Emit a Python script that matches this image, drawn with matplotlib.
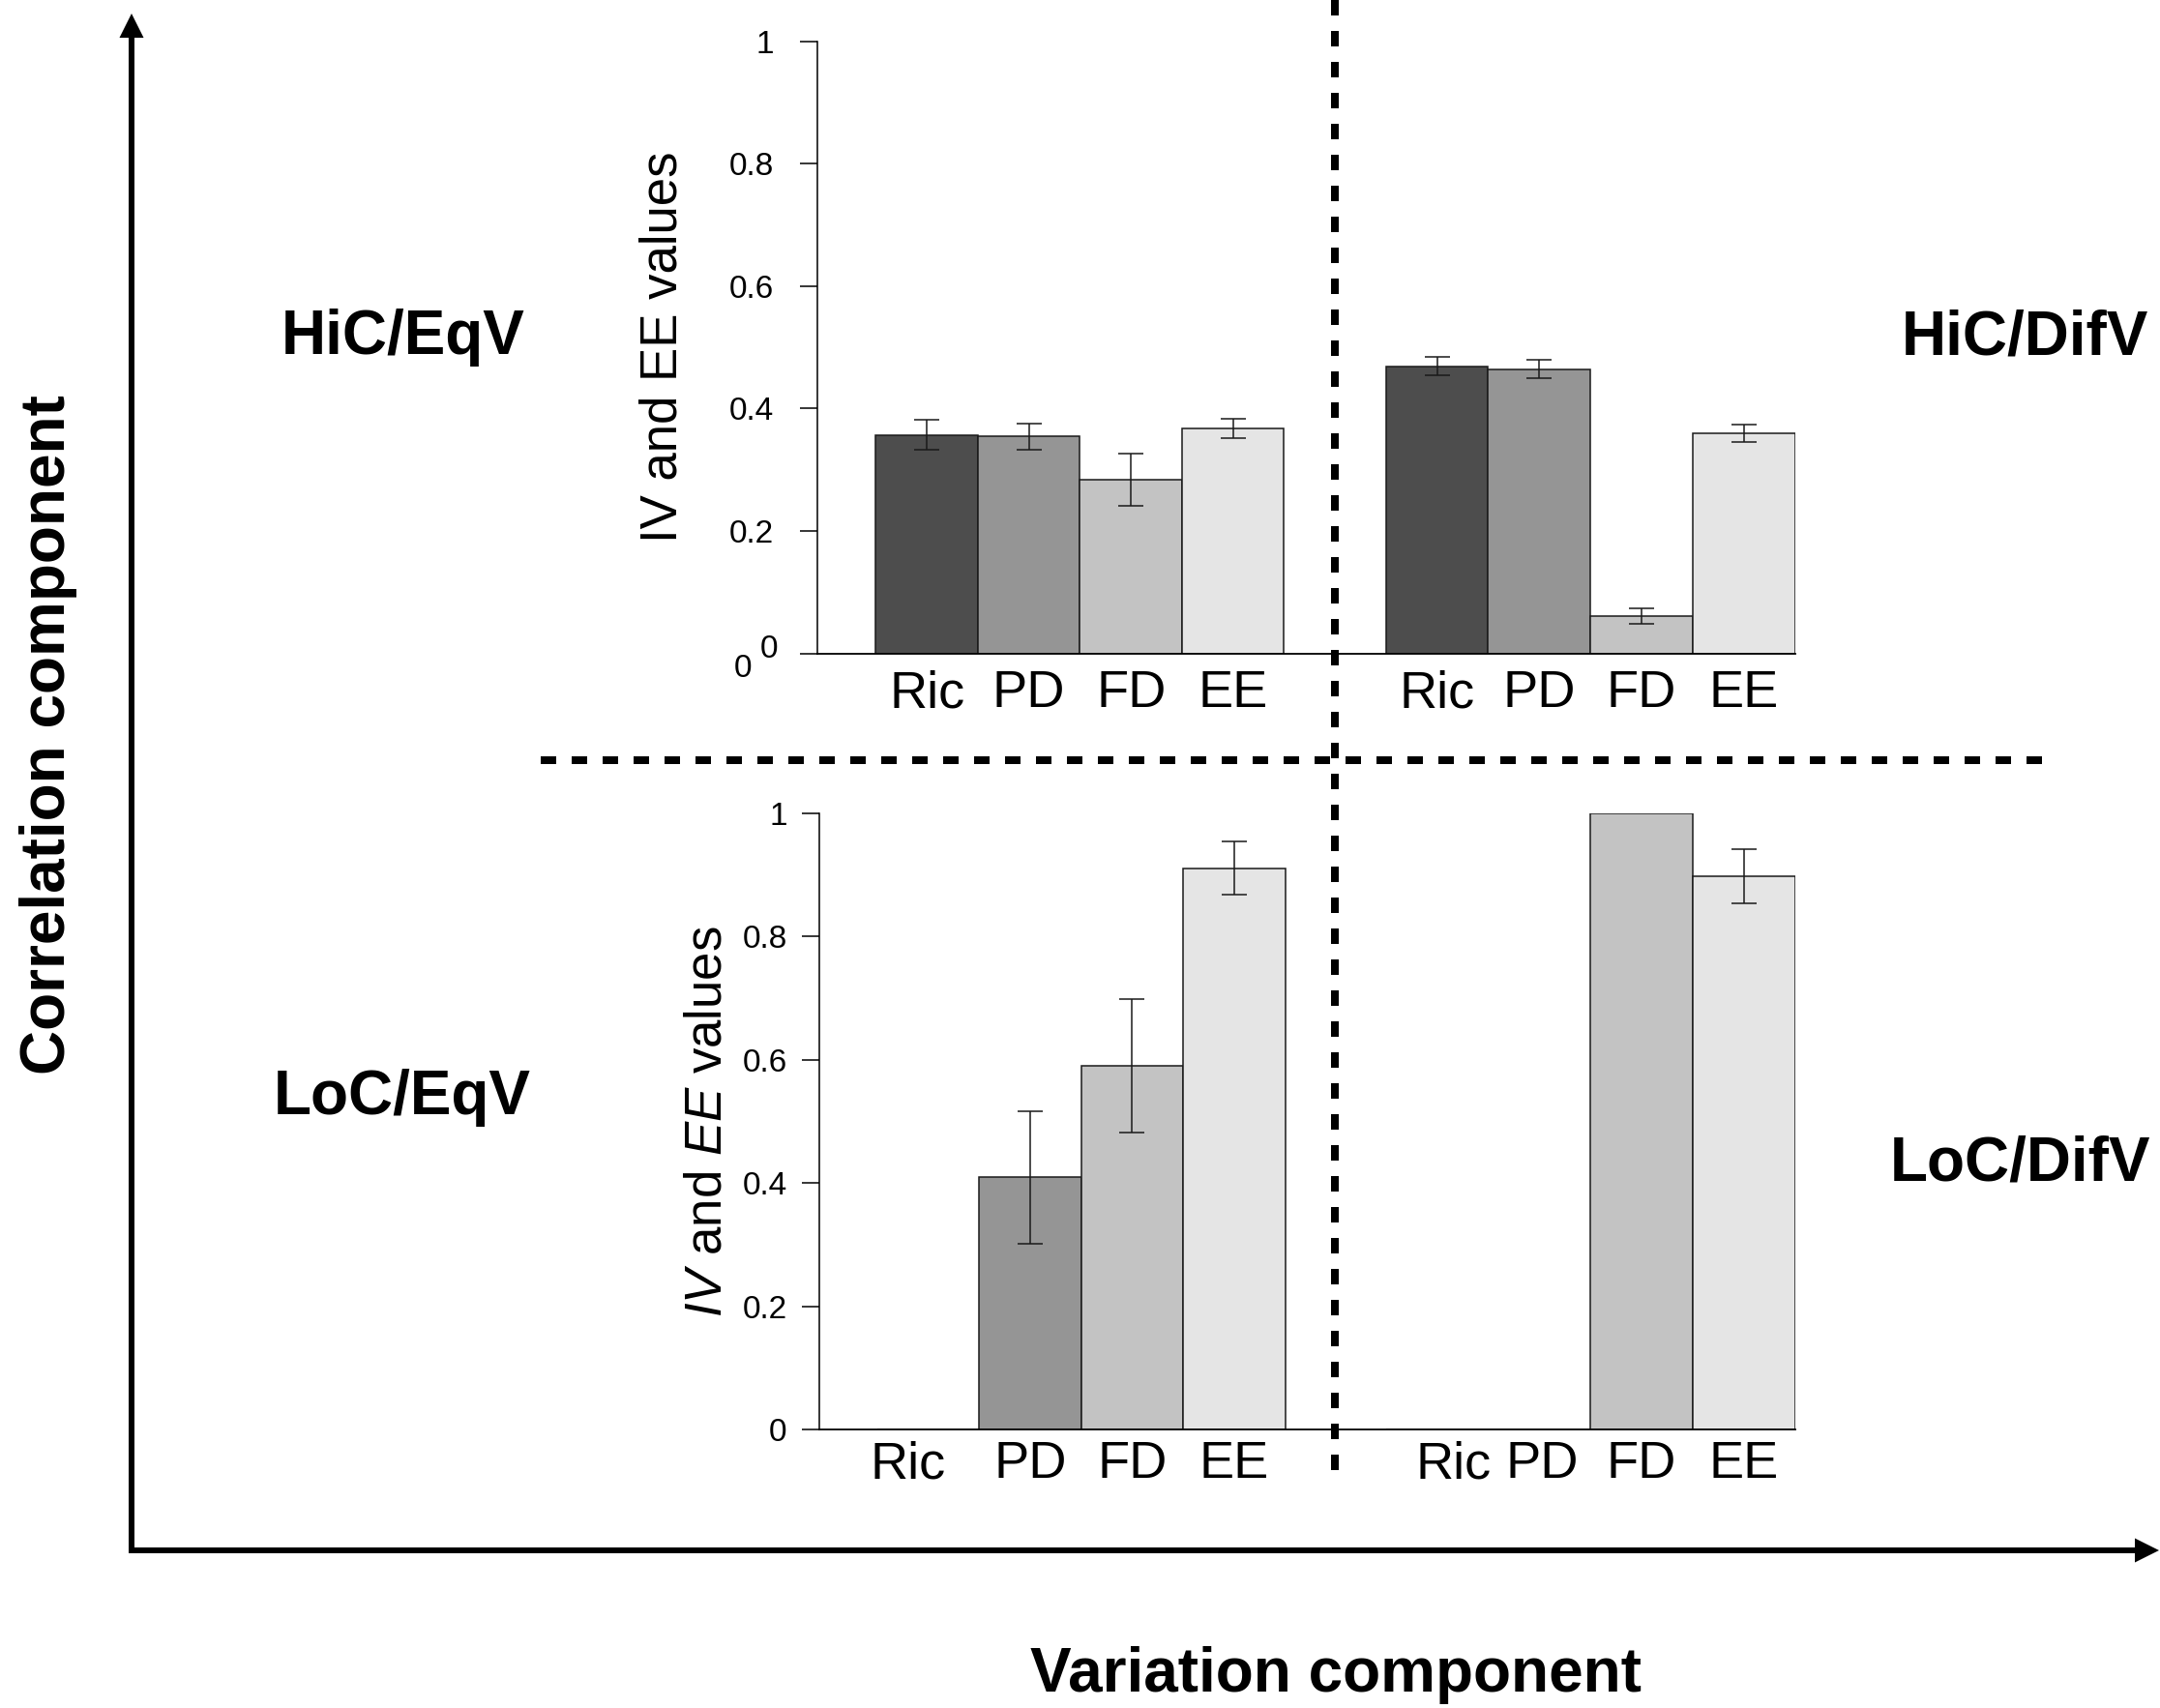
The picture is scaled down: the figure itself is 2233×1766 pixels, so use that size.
import numpy as np
import matplotlib.pyplot as plt
from matplotlib.transforms import ScaledTranslation

plt.rcParams['font.family'] = ['Liberation Sans', 'DejaVu Sans']
plt.rcParams['mathtext.fontset'] = 'custom'
plt.rcParams['mathtext.rm'] = 'Liberation Sans'
plt.rcParams['mathtext.it'] = 'Liberation Sans:italic'

#------------- data -------------
categories = ['Ric', 'PD', 'FD', 'EE']
bar_colors = ['#4d4d4d', '#959595', '#c3c3c3', '#e5e5e5']

hic_eqv = [0.357, 0.354, 0.284, 0.367]
hic_eqv_err = [0.025, 0.021, 0.043, 0.016]

hic_difv = [0.469, 0.464, 0.061, 0.360]
hic_difv_err = [0.015, 0.015, 0.013, 0.014]

loc_eqv = [0.0, 0.409, 0.590, 0.911]
loc_eqv_err = [np.nan, 0.108, 0.108, 0.043]

loc_difv = [0.0, 0.0, 1.0, 0.898]
loc_difv_err = [np.nan, np.nan, np.nan, 0.044]

yticks = [0, 0.2, 0.4, 0.6, 0.8, 1]
ytick_labels = ['0', '0.2', '0.4', '0.6', '0.8', '1']

W, H = 2233, 1766
fig = plt.figure(figsize=(W / 100, H / 100), dpi=100)


def px_axes(left, top, right, bottom):
    return fig.add_axes([left / W, 1 - bottom / H, (right - left) / W, (bottom - top) / H])


#------------- overlay: arrows, dashed lines, labels -------------
over = fig.add_axes([0, 0, 1, 1], zorder=0)
over.set_xlim(0, W)
over.set_ylim(H, 0)
over.axis('off')

over.arrow(136, 1603, 0, -1589, width=6, head_width=25, head_length=25,
           length_includes_head=True, color='black', lw=0)
over.arrow(133, 1603, 2099, 0, width=6, head_width=25, head_length=25,
           length_includes_head=True, color='black', lw=0)

over.plot([1380, 1380], [0, 1531], color='black', lw=5.76, dashes=(2, 2))
over.plot([559, 2115], [786, 786], color='black', lw=5.76, dashes=(2, 2))

big = dict(fontsize=46, fontweight='bold', ha='center', va='center')
over.text(50, 760, 'Correlation component', rotation=90, **big)
over.text(1381, 1732, 'Variation component', **big)
over.text(417, 349, 'HiC/EqV', **big)
over.text(2093, 349, 'HiC/DifV', **big)
over.text(416, 1135, 'LoC/EqV', **big)
over.text(2089, 1203, 'LoC/DifV', **big)


#------------- bar panels -------------
def panel(ax, vals, errs, xlim, show_y, ypad, xticks, xpad):
    x = np.arange(len(categories))
    ax.set_facecolor('none')
    ax.bar(x, vals, width=1.0, color=bar_colors, edgecolor='#1a1a1a', linewidth=1.1, zorder=2)
    ax.errorbar(x, vals, yerr=errs, fmt='none', ecolor='#1a1a1a', elinewidth=1.1,
                capsize=9.5, capthick=1.1, zorder=3)
    ax.set_xlim(*xlim)
    ax.set_ylim(0, 1)
    for s in ['top', 'right']:
        ax.spines[s].set_visible(False)
    ax.spines['bottom'].set_linewidth(1.3)
    ax.set_xticks(xticks)
    ax.set_xticklabels(categories, fontsize=39)
    ax.tick_params(axis='x', length=0, pad=xpad)
    if show_y:
        ax.spines['left'].set_linewidth(1.1)
        ax.set_yticks(yticks)
        ax.set_yticklabels(ytick_labels, fontsize=24)
        ax.tick_params(axis='y', length=13, width=1.1, pad=ypad)
    else:
        ax.spines['left'].set_visible(False)
        ax.set_yticks([])


ax_tl = px_axes(844.5, 42.7, 1380, 675.5)
panel(ax_tl, hic_eqv, hic_eqv_err, (-1.078, 3.998), True, 19, [0, 1, 2, 3], 12)
ax_tl.set_ylabel('IV and EE values', fontsize=38)
ax_tl.yaxis.set_label_coords(-0.25, 0.5)
# the "0" tick label sits a little high, with a stray second "0" below it
zero_lbl = ax_tl.get_yticklabels()[0]
zero_lbl.set_transform(zero_lbl.get_transform() + ScaledTranslation(4 / 100, 7 / 100, fig.dpi_scale_trans))
ax_tl.text(-0.142, -0.025, '0', transform=ax_tl.transAxes, fontsize=24,
           ha='center', va='center')

ax_tr = px_axes(1380, 42.7, 1855.6, 675.5)
panel(ax_tr, hic_difv, hic_difv_err, (-0.999, 3.5), False, 0, [0, 1, 2, 3], 12)

ax_bl = px_axes(847, 841, 1380, 1478)
panel(ax_bl, loc_eqv, loc_eqv_err, (-1.069, 3.988), True, 11, [-0.2, 1, 2, 3], 8)
ax_bl.set_ylabel(r'$\mathit{IV}$ and $\mathit{EE}$ values', fontsize=38)
ax_bl.yaxis.set_label_coords(-0.17, 0.5)

ax_br = px_axes(1380, 841, 1855.6, 1478)
panel(ax_br, loc_difv, loc_difv_err, (-0.999, 3.5), False, 0, [0.16, 1.03, 2, 3], 8)

fig.savefig('out.png', dpi=100, facecolor='white')
